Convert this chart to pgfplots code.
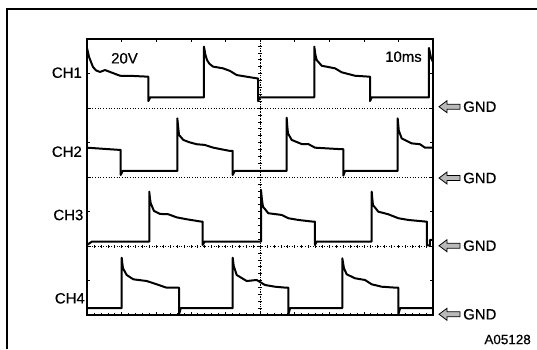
\documentclass[border=0pt]{standalone}
\usepackage{pgfplots}
\pgfplotsset{compat=1.18}
\usepackage{fontspec}
\setmainfont{Liberation Sans}
\newfontfamily\lblfont[FakeBold=0.5]{Liberation Sans}
\pgfplotsset{
  ch/.style={width=346bp, height=69bp, scale only axis, anchor=south west,
    xmin=0, xmax=100, ymin=0, ymax=40, axis lines=none, clip=false},
  trace/.style={black, line width=2bp, line join=round, mark=none}
}
\begin{document}
\begin{tikzpicture}[x=1bp,y=1bp]
\useasboundingbox (0,0) rectangle (537,349);
% outer frame
\draw[line width=1.3bp] (7,0) -- (7,340) -- (537,340);

% screen frame (grid axis)
\begin{axis}[at={(87bp,34bp)}, anchor=south west, width=346bp, height=276bp,
  scale only axis, xmin=0, xmax=10, ymin=0, ymax=8,
  xtick={1,...,9}, ytick={1,...,7}, xticklabels={}, yticklabels={},
  tick align=inside, major tick length=3bp,
  tick style={black, line width=0.6bp}, axis line style={line width=1.1bp}]
\end{axis}
% dotted graticule lines with small ticks
\draw[densely dotted, line width=0.7bp] (260,34) -- (260,310);
\foreach \y in {103,172,241}
  \draw[dotted, line width=0.7bp] (87,\y) -- (433,\y);
\foreach \k in {1,...,39}
  \draw[line width=0.6bp] (258,{34+\k*6.9}) -- (262,{34+\k*6.9});
\foreach \k in {1,...,49}
  \draw[line width=0.5bp] ({87+\k*6.92},101.5) -- ({87+\k*6.92},104.5);
\foreach \k in {1,...,49}
  \draw[line width=0.5bp] ({87+\k*6.92},34) -- ({87+\k*6.92},36);

% CH1
\begin{axis}[ch, at={(87bp,241bp)}]
\addplot[trace] coordinates {(0,34.8) (0.6,29.5) (1.73,23.8) (2.6,21.8) (3.76,20.9) (5.2,22.0) (6.65,20.9) (9.54,18.7) (13.0,18.6) (17.25,18.2) (17.72,18.2) (17.72,4.0) (18.3,6.2) (33.81,6.2) (33.81,35.6) (34.2,31.0) (34.68,27.8) (35.4,25.6) (36.41,24.0) (39.3,23.0) (41.33,21.5) (43.26,19.1) (49.04,17.2) (49.42,17.2) (49.42,4.0) (50.0,6.2) (65.69,6.2) (65.69,35.6) (66.0,31.0) (66.38,27.8) (67.83,24.5) (71.67,23.0) (73.61,20.7) (77.45,18.7) (81.3,18.2) (81.79,18.2) (81.79,4.0) (82.3,6.2) (98.84,6.2) (98.84,34.8) (99.42,29.0) (100,26.7)};
\end{axis}
% CH2
\begin{axis}[ch, at={(87bp,172bp)}]
\addplot[trace] coordinates {(0,17.0) (5,16.3) (9.54,15.7) (9.74,15.7) (9.74,1.2) (10.3,3.5) (26.10,3.5) (26.10,34.0) (26.35,29) (26.59,24.4) (27.83,21.5) (29.5,20.2) (31.70,19.0) (34,18.6) (36.50,17.0) (41.33,15.1) (42.11,15.1) (42.11,1.2) (42.7,3.5) (57.71,3.5) (57.71,34.4) (57.9,29) (58.09,25.3) (59.16,21.5) (62.05,19.1) (63.96,19.1) (65.89,17.0) (73.61,16.1) (74.07,16.1) (74.07,0.8) (74.6,3.5) (89.79,3.5) (89.79,34.0) (90.1,27) (90.95,22.4) (93.84,19.5) (96.24,19.0) (97.68,17.0) (100,17.0)};
\end{axis}
% CH3
\begin{axis}[ch, at={(87bp,103bp)}]
\addplot[trace] coordinates {(0,0.6) (1.45,2.6) (3,2.6) (18.0,2.6) (18.0,31.5) (18.2,27.5) (18.41,24.8) (19.36,20.3) (21.10,18.6) (23.5,18.4) (25.92,16.6) (28.81,15.5) (33.15,14.1) (33.44,14.1) (33.44,0.6) (34.0,2.6) (50.29,2.6) (50.29,32.5) (50.55,27) (50.86,22.8) (52.4,19.0) (56.27,18.0) (58.18,16.1) (61.07,15.1) (65.4,14.1) (65.89,14.1) (65.89,0.6) (66.4,2.6) (82.28,2.6) (82.28,31.5) (82.45,27.5) (82.65,23.8) (84.19,19.9) (87.08,18.4) (89.97,16.1) (92.86,15.1) (98.17,14.1) (98.26,14.1) (98.26,0.3) (99.1,0.3) (99.1,3.5) (100,3.5)};
\end{axis}
% CH4
\begin{axis}[ch, at={(87bp,34bp)}]
\addplot[trace] coordinates {(0,4.0) (10.03,4.0) (10.03,33.2) (10.2,30) (10.4,27.1) (11.47,23.2) (13.38,20.7) (17.25,19.7) (20.14,17.8) (23.03,15.8) (26.39,15.8) (26.59,15.8) (26.59,0.3) (27.1,4.0) (42.11,4.0) (42.11,33.2) (42.4,28.5) (43.26,23.2) (46.15,19.7) (49.04,20.3) (51.44,17.4) (54.33,16.4) (57.71,15.8) (58.18,15.8) (58.18,0.3) (58.7,4.0) (73.78,4.0) (73.78,32.9) (74.27,27.1) (75.05,23.6) (77.45,21.3) (80.34,20.3) (82.28,17.8) (85.17,16.4) (89.5,15.8) (89.97,15.8) (89.97,0.3) (90.5,4.0) (100,4.0)};
\end{axis}

% labels
\begin{scope}[every node/.style={inner sep=0pt, font=\lblfont\fontsize{15}{18}\selectfont}]
\node[anchor=east] at (82,276.3) {CH1};
\node[anchor=east] at (82,197.3) {CH2};
\node[anchor=east] at (83.5,134) {CH3};
\node[anchor=east] at (85,50.7) {CH4};
\node[anchor=west] at (111,290.7) {20V};
\node[anchor=west] at (385,292.3) {10ms};
\foreach \y in {242.3,171,103.3,34.7} {
  \draw[fill=gray!55, line width=0.8bp, line join=miter]
    (439,\y) -- (447,\y+6) -- (447,\y+2.5) -- (460,\y+2.5) -- (460,\y-2.5) -- (447,\y-2.5) -- (447,\y-6) -- cycle;
  \node[anchor=west] at (463,\y) {GND};
}
\node[anchor=east, font=\lblfont\fontsize{13.5}{16}\selectfont] at (531,9.5) {A05128};
\end{scope}
\end{tikzpicture}
\end{document}
